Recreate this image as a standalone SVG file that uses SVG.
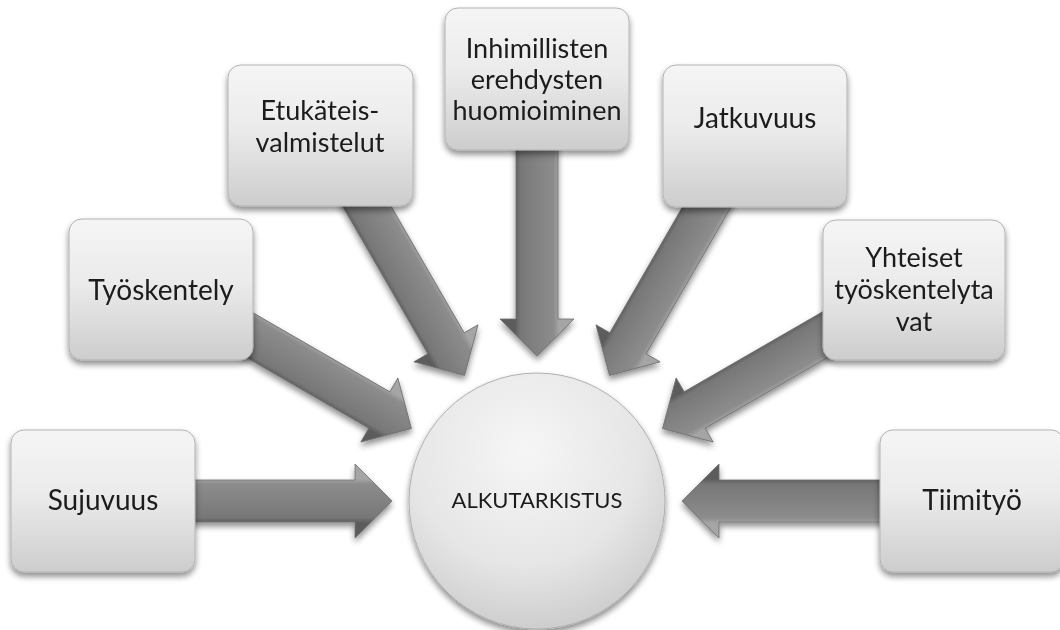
<svg xmlns="http://www.w3.org/2000/svg" width="1060" height="630" viewBox="0 0 1060 630">
  <defs>
    <linearGradient id="boxFill" x1="0" y1="0" x2="0" y2="1">
      <stop offset="0" stop-color="#f5f5f5"/>
      <stop offset="0.45" stop-color="#ebebeb"/>
      <stop offset="1" stop-color="#cdcdcd"/>
    </linearGradient>
    <radialGradient id="circFill" cx="0.45" cy="0.3" r="0.75">
      <stop offset="0" stop-color="#f6f6f6"/>
      <stop offset="0.6" stop-color="#e6e6e6"/>
      <stop offset="1" stop-color="#c9c9c9"/>
    </radialGradient>
    <linearGradient id="arrowFill" gradientUnits="userSpaceOnUse" x1="0" y1="-22" x2="0" y2="22">
      <stop offset="0" stop-color="#a5a5a5"/>
      <stop offset="0.12" stop-color="#8c8c8c"/>
      <stop offset="0.5" stop-color="#828282"/>
      <stop offset="0.88" stop-color="#777777"/>
      <stop offset="1" stop-color="#5c5c5c"/>
    </linearGradient>
    <filter id="shadow" x="-20%" y="-20%" width="140%" height="150%">
      <feGaussianBlur in="SourceAlpha" stdDeviation="3"/>
      <feOffset dx="0" dy="4" result="b"/>
      <feComponentTransfer><feFuncA type="linear" slope="0.45"/></feComponentTransfer>
      <feMerge><feMergeNode/><feMergeNode in="SourceGraphic"/></feMerge>
    </filter>
    <polygon id="arrow" points="-215,-21 -37,-21 -37,-37 0,0 -37,37 -37,21 -215,21"/>
  </defs>
  <style>
    .box { fill: url(#boxFill); stroke: #b3b3b3; stroke-width: 1; }
    .lbl { font-family: Lato, "Open Sans", "Liberation Sans", sans-serif; font-size: 27px; fill: #1a1a1a; text-anchor: middle; }
    .arr { fill: url(#arrowFill); stroke: #6e6e6e; stroke-width: 0.8; }
  </style>

  <g id="connectors" filter="url(#shadow)">
    <use href="#arrow" class="arr" transform="translate(392,501) rotate(0)"/>
    <use href="#arrow" class="arr" transform="translate(411.4,428.5) rotate(30)"/>
    <use href="#arrow" class="arr" transform="translate(464.5,375.4) rotate(60)"/>
    <use href="#arrow" class="arr" transform="translate(537,356) rotate(90)"/>
    <use href="#arrow" class="arr" transform="translate(609.5,375.4) rotate(120)"/>
    <use href="#arrow" class="arr" transform="translate(662.6,428.5) rotate(150)"/>
    <use href="#arrow" class="arr" transform="translate(682,501) rotate(180)"/>
  </g>

  <g id="center" filter="url(#shadow)">
    <circle cx="537" cy="501" r="128" fill="url(#circFill)" stroke="#b0b0b0" stroke-width="1"/>
    <text class="lbl" x="537" y="508" style="font-size:22px">ALKUTARKISTUS</text>
  </g>

  <g id="sujuvuus" filter="url(#shadow)">
    <rect class="box" x="11" y="430" width="184" height="142" rx="13"/>
    <text class="lbl" x="103" y="510" style="font-size:28px">Sujuvuus</text>
  </g>

  <g id="tyoskentely" filter="url(#shadow)">
    <rect class="box" x="69" y="219" width="184" height="141" rx="13"/>
    <text class="lbl" x="161" y="300" style="font-size:28px">Työskentely</text>
  </g>

  <g id="etukateis" filter="url(#shadow)">
    <rect class="box" x="228" y="65" width="185" height="141" rx="13"/>
    <text class="lbl" x="320" y="120">Etukäteis-</text>
    <text class="lbl" x="320" y="152">valmistelut</text>
  </g>

  <g id="inhimillisten" filter="url(#shadow)">
    <rect class="box" x="445" y="8" width="184" height="142" rx="13"/>
    <text class="lbl" x="537" y="58">Inhimillisten</text>
    <text class="lbl" x="537" y="89">erehdysten</text>
    <text class="lbl" x="537" y="120">huomioiminen</text>
  </g>

  <g id="jatkuvuus" filter="url(#shadow)">
    <rect class="box" x="663" y="65" width="184" height="142" rx="13"/>
    <text class="lbl" x="755" y="128" style="font-size:28px">Jatkuvuus</text>
  </g>

  <g id="yhteiset" filter="url(#shadow)">
    <rect class="box" x="823" y="220" width="182" height="140" rx="13"/>
    <text class="lbl" x="914" y="267">Yhteiset</text>
    <text class="lbl" x="914" y="299">työskentelyta</text>
    <text class="lbl" x="914" y="331">vat</text>
  </g>

  <g id="tiimityo" filter="url(#shadow)">
    <rect class="box" x="880" y="430" width="184" height="142" rx="13"/>
    <text class="lbl" x="972" y="510" style="font-size:28px">Tiimityö</text>
  </g>
</svg>
